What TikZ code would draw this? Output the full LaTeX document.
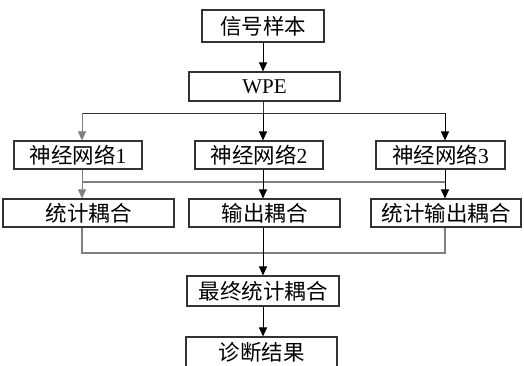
\documentclass[tikz,border=0pt]{standalone}
\usepackage{fontspec}
\setmainfont{Liberation Serif}
\newfontfamily\cjkf{Noto Sans CJK SC}
\newcommand{\cjk}{\cjkf\fontsize{21.5}{23}\selectfont}
\usetikzlibrary{arrows.meta}
\definecolor{bordc}{HTML}{333333}
\definecolor{lgray}{HTML}{808080}
\tikzset{
  box/.style={draw=bordc, line width=1.1pt, inner sep=0pt, font=\fontsize{21}{23}\selectfont},
  arr/.style={-{Triangle[width=8pt,length=9pt]}, line width=1pt, draw=black},
  grayline/.style={line width=1.1pt, draw=lgray},
  darkline/.style={line width=1pt, draw=black!80},
}
\begin{document}
\begin{tikzpicture}[x=1pt,y=-1pt]
\useasboundingbox (0,0) rectangle (524,365);
\clip (0,0) rectangle (524,365);
\coordinate (c1) at (82,0);
\coordinate (c2) at (263,0);
\coordinate (c3) at (445,0);
\node[box, minimum width=122pt, minimum height=32pt] (b1) at (263,26) {\cjk 信号样本};
\node[box, minimum width=151pt, minimum height=29pt] (b2) at (264.5,86.5) {WPE};
\node[box, minimum width=128pt, minimum height=28pt] (n1) at (78,155) {\cjk 神经网络\rmfamily 1};
\node[box, minimum width=128pt, minimum height=28pt] (n2) at (259,155) {\cjk 神经网络\rmfamily 2};
\node[box, minimum width=129pt, minimum height=28pt] (n3) at (440.5,155) {\cjk 神经网络\rmfamily 3};
\node[box, minimum width=171pt, minimum height=28pt] (s1) at (88.5,213) {\cjk 统计耦合};
\node[box, minimum width=151pt, minimum height=28pt] (s2) at (264.5,213) {\cjk 输出耦合};
\node[box, minimum width=150pt, minimum height=28pt] (s3) at (446,213) {\cjk 统计输出耦合};
\node[box, minimum width=152pt, minimum height=30pt] (f) at (263,291) {\cjk 最终统计耦合};
\node[box, minimum width=151pt, minimum height=30pt] (d) at (261.5,352) {\cjk 诊断结果};
% top
\draw[arr] (b1.south -| c2) -- (b2.north -| c2);
\coordinate (h1l) at (82,113);
\coordinate (h1m) at (263,113);
\coordinate (h1r) at (445,113);
\draw[darkline] (b2.south -| c2) -- (h1m);
\draw[darkline] (h1l) -- (h1r);
\draw[arr, draw=lgray] (h1l) -- (n1.north -| c1);
\draw[arr] (h1m) -- (n2.north -| c2);
\draw[arr] (h1r) -- (n3.north -| c3);
% middle coupling
\coordinate (h2l) at (82,182);
\coordinate (h2r) at (445,182);
\draw[grayline] (h2l) -- (h2r);
\draw[arr, draw=lgray] (n1.south -| c1) -- (s1.north -| c1);
\draw[arr] (n2.south -| c2) -- (s2.north -| c2);
\draw[arr] (n3.south -| c3) -- (s3.north -| c3);
% bottom
\coordinate (h3l) at (82,253);
\coordinate (h3m) at (263,253);
\coordinate (h3r) at (445,253);
\draw[grayline] (s1.south -| c1) -- (h3l) -- (h3r) -- (s3.south -| c3);
\draw[arr] (s2.south -| c2) -- (f.north -| c2);
\draw[arr] (f.south -| c2) -- (d.north -| c2);
\end{tikzpicture}
\end{document}
